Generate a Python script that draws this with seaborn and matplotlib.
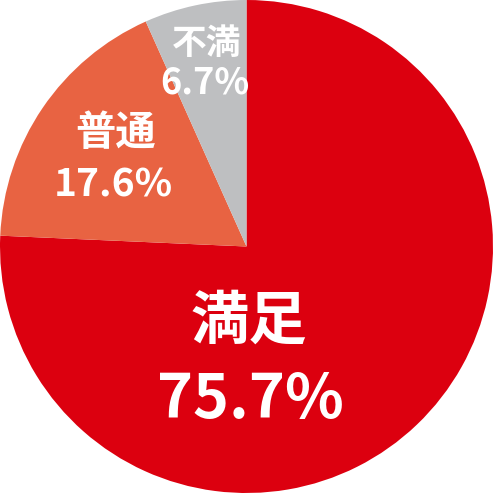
import matplotlib
matplotlib.use("Agg")
import matplotlib.pyplot as plt
import seaborn as sns

categories = ["満足", "普通", "不満"]
values = [75.7, 17.6, 6.7]
colors = ["#DC000F", "#E86342", "#BEBFC1"]

sns.set_style("white")
plt.rcParams['font.family'] = ['Noto Sans CJK JP', 'DejaVu Sans']

fig = plt.figure(figsize=(4.93, 4.93), dpi=100)
ax = fig.add_axes([0, 0, 1, 1])
ax.pie(values, colors=colors, startangle=90, counterclock=False, radius=1,
       wedgeprops=dict(linewidth=0))
ax.set_xlim(-1, 1)
ax.set_ylim(-1, 1)
ax.set_aspect('equal')
ax.axis('off')

# label layout: (name pos, name size, pct pos, pct size)
layout = [
    ((0.01, -0.305), 42, (0.014, -0.625), 44),
    ((-0.53, 0.46), 29, (-0.54, 0.25), 28),
    ((-0.16, 0.825), 25, (-0.17, 0.665), 26),
]
for cat, val, (npos, nsz, ppos, psz) in zip(categories, values, layout):
    ax.text(npos[0], npos[1], cat, ha='center', va='center', color='white',
            fontsize=nsz, fontweight='bold')
    ax.text(ppos[0], ppos[1], f"{val:.1f}%", ha='center', va='center', color='white',
            fontsize=psz, fontweight='bold')

fig.savefig("out.png", dpi=100)
